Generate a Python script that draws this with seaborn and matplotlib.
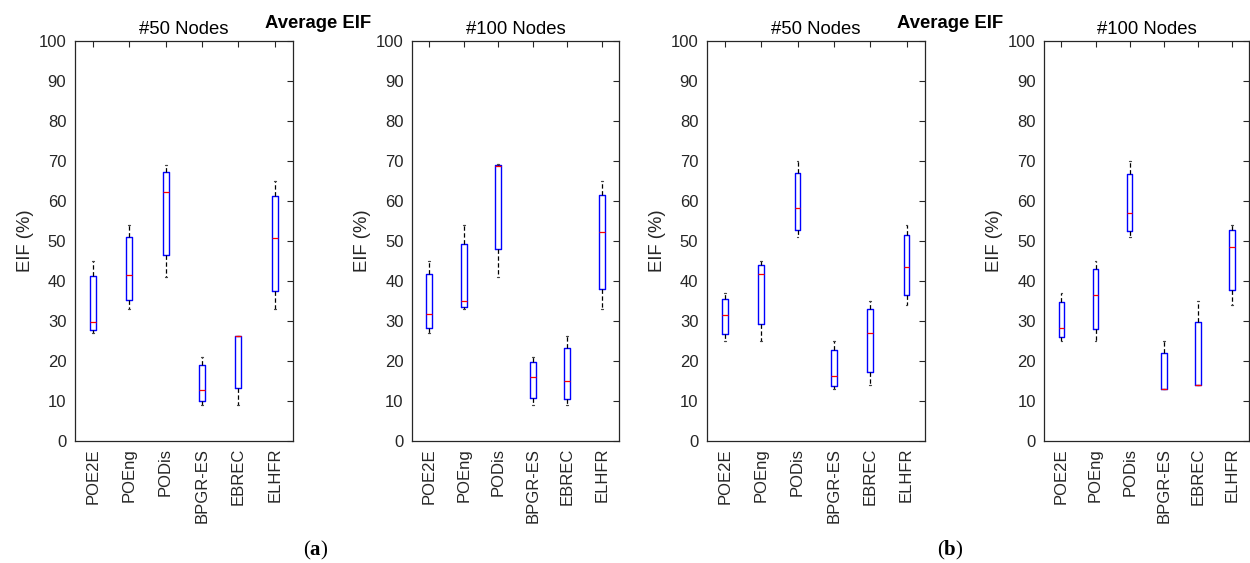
import numpy as np
import pandas as pd
import matplotlib
matplotlib.use("Agg")
import matplotlib.pyplot as plt
import seaborn as sns

# ---------------- data (five-number summaries) ----------------
methods = ["POE2E", "POEng", "PODis", "BPGR-ES", "EBREC", "ELHFR"]
panel_titles = ["#50 Nodes", "#100 Nodes", "#50 Nodes", "#100 Nodes"]
yticks = [0, 10, 20, 30, 40, 50, 60, 70, 80, 90, 100]
# each row: [min, q1, median, q3, max]
a_50 = [[27, 27.7, 29.8, 41.2, 45],
        [33, 35.2, 41.6, 51.0, 54],
        [41, 46.4, 62.2, 67.3, 69],
        [9, 10.0, 12.75, 19.0, 21],
        [9, 13.2, 26.2, 26.2, 26.2],
        [33, 37.5, 50.7, 61.3, 65]]
a_100 = [[27, 28.25, 31.75, 41.7, 45],
         [33, 33.6, 35.0, 49.3, 54],
         [41, 48.0, 68.8, 69.0, 69.2],
         [9, 10.75, 16.0, 19.75, 21],
         [9, 10.5, 15.0, 23.3, 26.2],
         [33, 38.0, 52.2, 61.6, 65]]
b_50 = [[25, 26.7, 31.4, 35.6, 37],
        [25, 29.2, 41.7, 44.1, 45],
        [51, 52.8, 58.2, 67.1, 70],
        [13, 13.7, 16.2, 22.8, 25],
        [14, 17.25, 27.0, 33.0, 35],
        [34, 36.5, 43.6, 51.5, 54]]
b_100 = [[25, 25.9, 28.25, 34.8, 37],
         [25, 27.9, 36.5, 43.0, 45],
         [51, 52.6, 57.1, 66.8, 70],
         [13, 13.0, 13.0, 22.0, 25],
         [14, 14.0, 14.0, 29.8, 35],
         [34, 37.7, 48.6, 52.7, 54]]
panels = [a_50, a_100, b_50, b_100]

# ---------------- style ----------------
sns.set_theme(style="white")
plt.rcParams["font.family"] = ["Liberation Sans", "DejaVu Sans"]
plt.rcParams["mathtext.fontset"] = "custom"
plt.rcParams["mathtext.bf"] = "Liberation Serif:bold"
plt.rcParams["mathtext.rm"] = "Liberation Serif"

DARK = "#262626"
fig = plt.figure(figsize=(12.5, 5.63), dpi=100)

W, H = 1250.0, 563.0
top_px, bot_px = 41.0, 441.0
lefts = [74.7, 412.0, 706.7, 1044.3]
widths = [218.2, 207.0, 218.0, 205.0]
label_x = [-0.187, -0.200, -0.187, -0.203]

for i, stats in enumerate(panels):
    ax = fig.add_axes([lefts[i] / W, 1 - bot_px / H, widths[i] / W, (bot_px - top_px) / H])
    rows = []
    for m, vals in zip(methods, stats):
        for v in vals:
            rows.append({"method": m, "EIF": v})
    df = pd.DataFrame(rows)
    sns.boxplot(data=df, x="method", y="EIF", order=methods, ax=ax,
                whis=(0, 100), width=0.16, fill=False, color="blue",
                linewidth=0.9, showfliers=False,
                boxprops={"color": "blue", "linewidth": 1.0},
                medianprops={"color": "red", "linewidth": 0.9},
                whiskerprops={"color": "black", "linewidth": 0.9, "linestyle": (0, (3.5, 2))},
                capprops={"color": "#444444", "linewidth": 0.9},
                capwidths=0.05)
    ax.set_xlim(-0.5, 5.5)
    ax.set_ylim(0, 100)
    ax.set_yticks(yticks)
    ax.set_yticklabels([str(t) for t in yticks])
    ax.set_xticks(range(len(methods)))
    ax.set_xticklabels(methods, rotation=90)
    ax.tick_params(axis="both", direction="in", length=4, width=0.8,
                   colors=DARK, labelsize=12, top=True, right=True)
    ax.tick_params(axis="y", pad=6)
    ax.tick_params(axis="x", pad=5)
    for s in ax.spines.values():
        s.set_color(DARK)
        s.set_linewidth(0.9)
        s.set_visible(True)
    ax.set_xlabel("")
    ax.set_ylabel("EIF (%)", fontsize=13.3, color=DARK)
    ax.yaxis.set_label_coords(label_x[i], 0.5)
    ax.set_title(panel_titles[i], fontsize=13.3, color="black", pad=5)

fig.text(318 / W, 1 - 24 / H, "Average EIF", ha="center", va="center",
         fontsize=13.3, fontweight="bold", color="black")
fig.text(950 / W, 1 - 24 / H, "Average EIF", ha="center", va="center",
         fontsize=13.3, fontweight="bold", color="black")
fig.text(316 / W, 1 - 550 / H, r"($\mathbf{a}$)", ha="center", va="center",
         fontsize=15, family="Liberation Serif", color="black")
fig.text(950 / W, 1 - 550 / H, r"($\mathbf{b}$)", ha="center", va="center",
         fontsize=15, family="Liberation Serif", color="black")

fig.savefig("out.png", dpi=100, facecolor="white")
